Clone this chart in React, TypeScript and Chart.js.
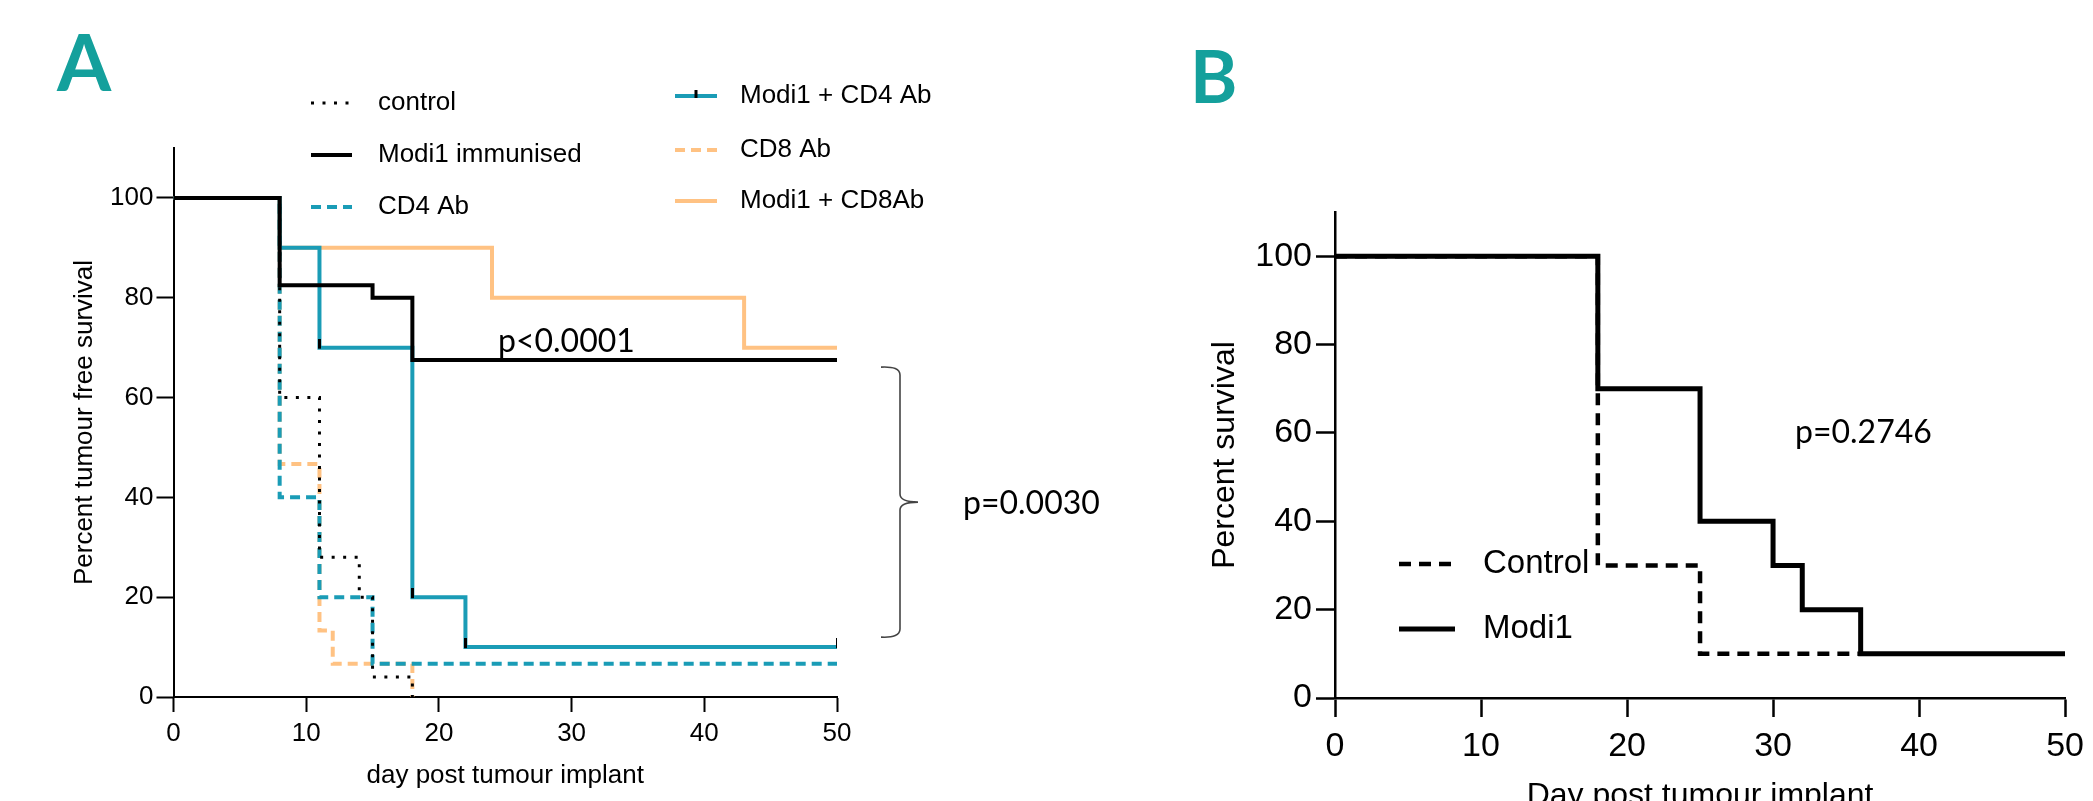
import React, { useEffect, useRef } from 'react';
import { Chart, registerables } from 'chart.js';

Chart.register(...registerables);

// ---------- shared ticks ----------
const xTickValues = [0, 10, 20, 30, 40, 50];
const yTickValues = [0, 20, 40, 60, 80, 100];

// ---------- Panel A data (day, percent tumour free) ----------
const controlDays = [0, 8, 11, 14, 15, 18];
const controlSurv = [100, 60, 28, 20, 4, 0];
const modiDays = [0, 8, 15, 18, 50];
const modiSurv = [100, 82.5, 80, 67.5, 67.5];
const cd4Days = [0, 8, 11, 15, 50];
const cd4Surv = [100, 40, 20, 6.67, 6.67];
const modiCd4Days = [0, 8, 11, 18, 22, 50];
const modiCd4Surv = [100, 90, 70, 20, 10, 10];
const modiCd4CensorDays = [11, 18, 22, 50];
const modiCd4CensorSurv = [70, 20, 10, 10];
const cd8Days = [0, 8, 11, 12, 18];
const cd8Surv = [100, 46.67, 13.33, 6.67, 0];
const modiCd8Days = [0, 8, 24, 43, 50];
const modiCd8Surv = [100, 90, 80, 70, 70];

// ---------- Panel B data ----------
const bControlDays = [0, 18, 25, 36];
const bControlSurv = [100, 30, 10, 10];
const bModiDays = [0, 18, 25, 30, 32, 36, 50];
const bModiSurv = [100, 70, 40, 30, 20, 10, 10];

const TEAL = '#1a9cb6';
const ORANGE = '#ffc283';
const LETTER = '#14a09c';
const ARIAL = '"Liberation Sans", Arial, sans-serif';
const CAL = 'Lato, "Open Sans", sans-serif';

const pts = (d: number[], v: number[]) => d.map((x, i) => ({ x, y: v[i] }));

function makeCensorMark() {
  const c = document.createElement('canvas');
  c.width = 3;
  c.height = 18;
  const g = c.getContext('2d')!;
  g.fillStyle = '#000';
  g.fillRect(0, 0, 3, 10);
  return c;
}

function axisCommon(size: number, tickLen: number, bw: number, pad: number) {
  return {
    grid: { display: true, drawOnChartArea: false, drawTicks: true, tickLength: tickLen, tickWidth: bw, tickColor: '#000' },
    border: { display: true, color: '#000', width: bw },
    ticks: { color: '#000', font: { family: ARIAL, size }, padding: pad, maxRotation: 0, autoSkip: false },
  };
}

function seg(ctx: CanvasRenderingContext2D, x1: number, x2: number, y: number, color: string, w: number, dash: number[]) {
  ctx.save();
  ctx.strokeStyle = color;
  ctx.lineWidth = w;
  ctx.setLineDash(dash);
  ctx.beginPath();
  ctx.moveTo(x1, y);
  ctx.lineTo(x2, y);
  ctx.stroke();
  ctx.restore();
}

const annotA = {
  id: 'annotA',
  afterDraw(chart: any) {
    const ctx: CanvasRenderingContext2D = chart.ctx;
    ctx.save();
    // panel letter
    ctx.fillStyle = LETTER;
    ctx.font = `bold 78px ${CAL}`;
    ctx.textBaseline = 'alphabetic';
    ctx.textAlign = 'left';
    ctx.fillText('A', 57, 91);
    // legend
    ctx.fillStyle = '#000';
    ctx.font = `26px ${ARIAL}`;
    ctx.textBaseline = 'middle';
    const col1 = [
      { t: 'control', c: '#000', w: 3, d: [3, 8.5], y: 103 },
      { t: 'Modi1 immunised', c: '#000', w: 4, d: [], y: 155 },
      { t: 'CD4 Ab', c: TEAL, w: 4, d: [10, 6], y: 207 },
    ];
    const col2 = [
      { t: 'Modi1 + CD4 Ab', c: TEAL, w: 4, d: [], y: 96 },
      { t: 'CD8 Ab', c: ORANGE, w: 4, d: [10, 6], y: 150 },
      { t: 'Modi1 + CD8Ab', c: ORANGE, w: 4, d: [], y: 201 },
    ];
    col1.forEach((r) => {
      seg(ctx, 311, 352, r.y, r.c, r.w, r.d);
      ctx.fillText(r.t, 378, r.y);
    });
    col2.forEach((r) => {
      seg(ctx, 675, 717, r.y, r.c, r.w, r.d);
      ctx.fillText(r.t, 740, r.y);
    });
    ctx.fillStyle = '#000';
    ctx.fillRect(694.5, col2[0].y - 6, 3, 8);
    // p values
    ctx.font = `32px ${CAL}`;
    ctx.fillText('p<0.0001', 498, 342);
    ctx.fillText('p=0.0030', 963, 504);
    // bracket
    const ys = chart.scales.y;
    const top = ys.getPixelForValue(modiSurv[modiSurv.length - 1] - 1.4);
    const bot = ys.getPixelForValue(modiCd4Surv[modiCd4Surv.length - 1] + 2);
    const mid = (top + bot) / 2;
    const bx = 900;
    ctx.strokeStyle = '#444';
    ctx.lineWidth = 1.6;
    ctx.beginPath();
    ctx.moveTo(881, top);
    ctx.quadraticCurveTo(bx, top - 1, bx, top + 8);
    ctx.lineTo(bx, mid - 8);
    ctx.quadraticCurveTo(bx, mid, bx + 18, mid);
    ctx.quadraticCurveTo(bx, mid, bx, mid + 8);
    ctx.lineTo(bx, bot - 8);
    ctx.quadraticCurveTo(bx, bot + 1, 881, bot);
    ctx.stroke();
    ctx.restore();
  },
};

const annotB = {
  id: 'annotB',
  afterDraw(chart: any) {
    const ctx: CanvasRenderingContext2D = chart.ctx;
    ctx.save();
    ctx.fillStyle = LETTER;
    ctx.font = `bold 72px ${CAL}`;
    ctx.textBaseline = 'alphabetic';
    ctx.textAlign = 'left';
    ctx.fillText('B', 144, 103);
    ctx.fillStyle = '#000';
    ctx.textBaseline = 'middle';
    ctx.font = `33px ${ARIAL}`;
    seg(ctx, 353, 409, 564, '#000', 4.5, [12, 8]);
    ctx.fillText('Control', 437, 564);
    seg(ctx, 353, 409, 629, '#000', 5, []);
    ctx.fillText('Modi1', 437, 629);
    ctx.font = `32px ${CAL}`;
    ctx.fillText('p=0.2746', 749, 433);
    ctx.restore();
  },
};

const A_W = 1200;

export default function App() {
  const refA = useRef<HTMLCanvasElement>(null);
  const refB = useRef<HTMLCanvasElement>(null);

  useEffect(() => {
    const setTicks = (vals: number[]) => (s: any) => {
      s.ticks = vals.map((v) => ({ value: v }));
    };
    const step = 'before' as const;
    const base = { stepped: step, pointRadius: 0, fill: false, tension: 0 };

    const chartA = new Chart(refA.current!, {
      type: 'line',
      data: {
        datasets: [
          { ...base, type: 'scatter', label: 'censor', data: pts(modiCd4CensorDays, modiCd4CensorSurv), showLine: false, pointStyle: makeCensorMark() as any, pointRadius: 5, order: 0 } as any,
          { ...base, label: 'Modi1 immunised', data: pts(modiDays, modiSurv), borderColor: '#000', borderWidth: 4, order: 1 },
          { ...base, label: 'control', data: pts(controlDays, controlSurv), borderColor: '#000', borderWidth: 3, borderDash: [3, 8.5], order: 2 },
          { ...base, label: 'CD4 Ab', data: pts(cd4Days, cd4Surv), borderColor: TEAL, borderWidth: 4, borderDash: [10, 6], order: 3 },
          { ...base, label: 'Modi1 + CD4 Ab', data: pts(modiCd4Days, modiCd4Surv), borderColor: TEAL, borderWidth: 4, order: 4 },
          { ...base, label: 'CD8 Ab', data: pts(cd8Days, cd8Surv), borderColor: ORANGE, borderWidth: 4, borderDash: [10, 6], order: 5 },
          { ...base, label: 'Modi1 + CD8Ab', data: pts(modiCd8Days, modiCd8Surv), borderColor: ORANGE, borderWidth: 4, order: 6 },
        ],
      },
      options: {
        animation: false,
        responsive: false,
        maintainAspectRatio: false,
        layout: { padding: { left: 0, right: A_W - 837, top: 148, bottom: 0 } },
        plugins: { legend: { display: false }, tooltip: { enabled: false } },
        scales: {
          x: {
            type: 'linear', min: 0, max: 50,
            afterBuildTicks: setTicks(xTickValues),
            afterFit: (s: any) => { s.height = 104; },
            ...axisCommon(26, 15, 2, 6),
            title: { display: true, text: 'day post tumour implant', color: '#000', font: { family: ARIAL, size: 26 }, padding: { top: 0, bottom: 10 } },
          },
          y: {
            type: 'linear', min: 0, max: 110,
            afterBuildTicks: setTicks(yTickValues),
            afterFit: (s: any) => { s.width = 173.5; },
            ...axisCommon(26, 17, 2, 3),
            title: { display: true, text: 'Percent tumour free survival', color: '#000', font: { family: ARIAL, size: 26 }, padding: { top: 69, bottom: 0 } },
          },
        },
      } as any,
      plugins: [annotA],
    });

    const chartB = new Chart(refB.current!, {
      type: 'line',
      data: {
        datasets: [
          { ...base, label: 'Modi1', data: pts(bModiDays, bModiSurv), borderColor: '#000', borderWidth: 5, order: 0 },
          { ...base, label: 'Control', data: pts(bControlDays, bControlSurv), borderColor: '#000', borderWidth: 4.5, borderDash: [12, 8], order: 1 },
        ],
      },
      options: {
        animation: false,
        responsive: false,
        maintainAspectRatio: false,
        layout: { padding: { left: 0, right: 20, top: 212, bottom: 0 } },
        plugins: { legend: { display: false }, tooltip: { enabled: false } },
        scales: {
          x: {
            type: 'linear', min: 0, max: 50,
            afterBuildTicks: setTicks(xTickValues),
            afterFit: (s: any) => { s.height = 132; },
            ...axisCommon(34, 19, 2.5, 9),
            title: { display: true, text: 'Day post tumour implant', color: '#000', font: { family: ARIAL, size: 32 }, padding: { top: 0, bottom: 15 } },
          },
          y: {
            type: 'linear', min: 0, max: 110,
            afterBuildTicks: setTicks(yTickValues),
            afterFit: (s: any) => { s.width = 289; },
            ...axisCommon(34, 19, 2.5, 4),
            title: { display: true, text: 'Percent survival', color: '#000', font: { family: ARIAL, size: 32 }, padding: { top: 160, bottom: 0 } },
          },
        },
      } as any,
      plugins: [annotB],
    });

    return () => {
      chartA.destroy();
      chartB.destroy();
    };
  }, []);

  return (
    <div style={{ position: 'fixed', left: 0, top: 0, width: 2093, height: 801, overflow: 'hidden', background: '#fff' }}>
      <canvas ref={refA} width={A_W} height={801} style={{ position: 'absolute', left: 0, top: 0, width: A_W, height: 801 }} />
      <canvas ref={refB} width={1047} height={830} style={{ position: 'absolute', left: 1046, top: 0, width: 1047, height: 830 }} />
    </div>
  );
}
